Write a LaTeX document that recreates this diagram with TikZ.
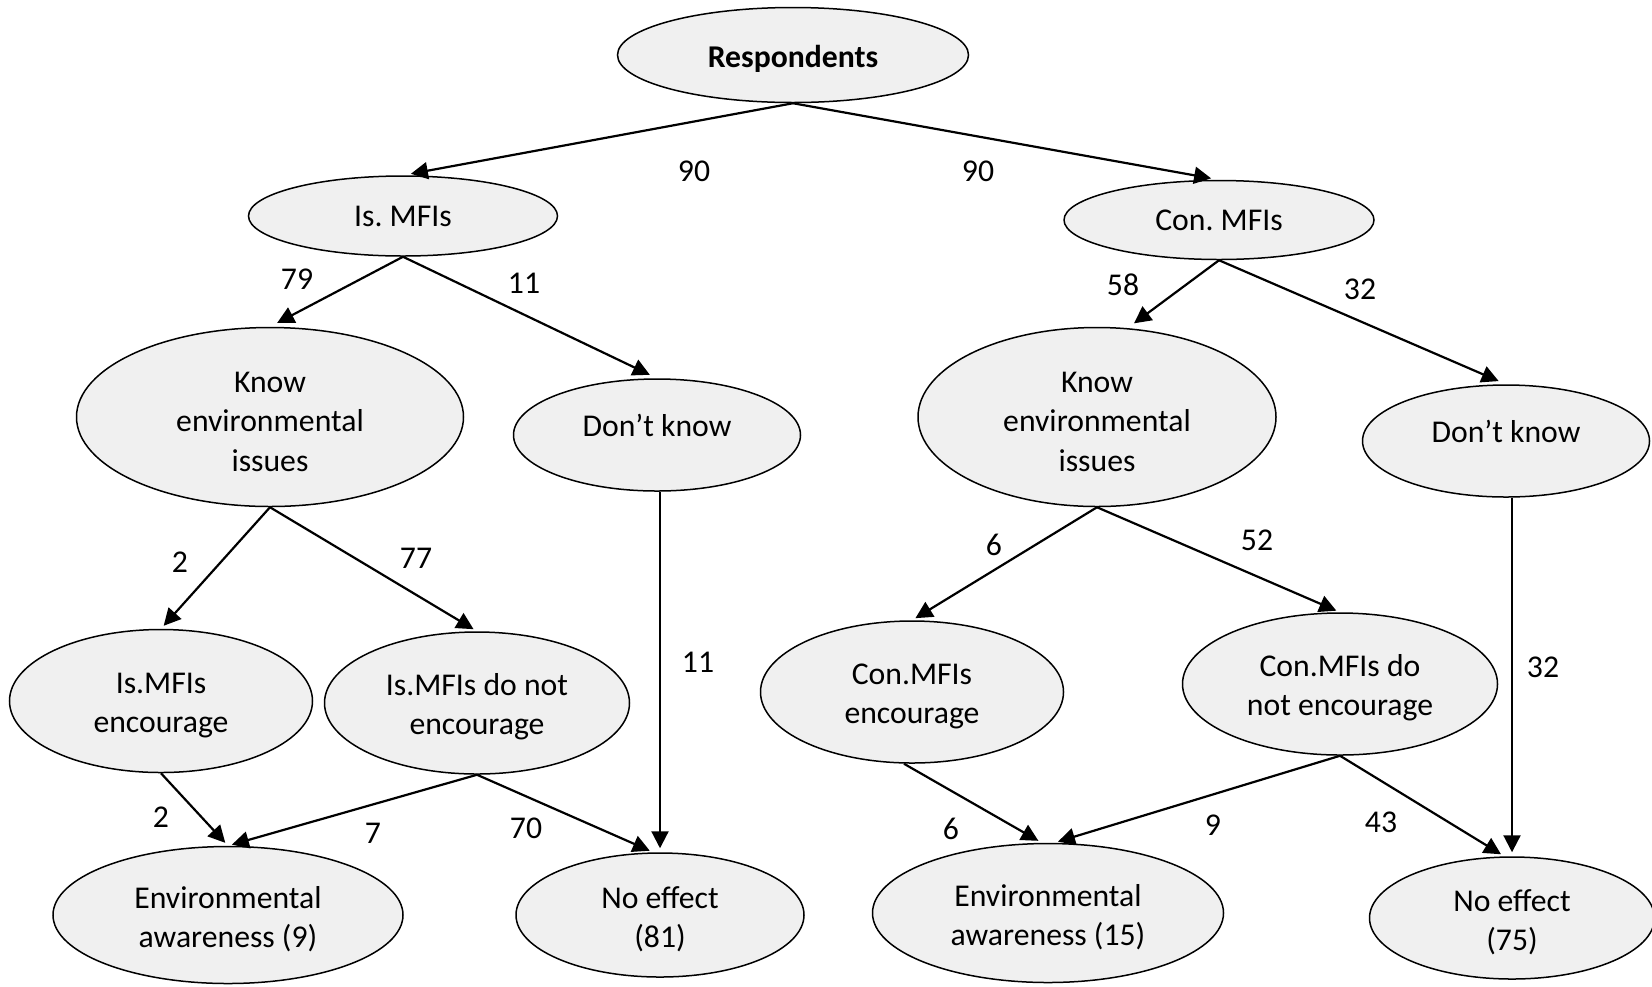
\documentclass[tikz,border=0pt]{standalone}
\usepackage{fontspec}
\setmainfont{Carlito}
\frenchspacing
\usetikzlibrary{shapes.geometric,arrows.meta,calc}
\definecolor{ellfill}{RGB}{240,240,240}
\begin{document}
\begin{tikzpicture}[x=0.5pt,y=-0.5pt,
  ell/.style 2 args={ellipse,draw=black,line width=0.75pt,fill=ellfill,inner sep=0pt,
    minimum width=#1*0.5pt,minimum height=#2*0.5pt,align=center,
    font=\fontsize{15.85pt}{19.7pt}\selectfont},
  tdn/.style={text height=15pt},
  tdntwo/.style={text height=34.7pt},
  tdnthree/.style={text height=54.4pt},
  num/.style={inner sep=0pt,font=\fontsize{15.85pt}{19.7pt}\selectfont},
  arr/.style={draw=black,line width=1.1pt,-{Triangle[length=8.5pt,width=8.5pt]},shorten >=2pt}]
\useasboundingbox (0,0) rectangle (1652,986);
% nodes
\node[ell={351}{95},tdn] (resp) at (793,55) {\textbf{Respondents}};
\node[ell={309}{80}] (ism) at (403,216) {Is.\ MFIs};
\node[ell={310}{79}] (con) at (1219,220) {Con.\ MFIs};
\node[ell={387}{179},tdnthree] (kl) at (270,417) {Know\\environmental\\issues};
\node[ell={287}{112},text depth=10pt] (dl) at (657,435) {Don’t know};
\node[ell={358}{179},tdnthree] (kr) at (1097,417) {Know\\environmental\\issues};
\node[ell={287}{112},text depth=10pt] (dr) at (1506,441) {Don’t know};
\node[ell={303}{143},tdntwo] (iee) at (161,701) {Is.MFIs\\encourage};
\node[ell={305}{142},tdntwo] (ind) at (477,703) {Is.MFIs do not\\encourage};
\node[ell={303}{142},tdntwo] (cce) at (912,692) {Con.MFIs\\encourage};
\node[ell={315}{142},tdntwo] (cnd) at (1340,684) {Con.MFIs do\\not encourage};
\node[ell={350}{137},tdntwo] (ea1) at (228,915) {Environmental\\awareness (9)};
\node[ell={288}{124},tdntwo] (ne1) at (660,915) {No effect\\(81)};
\node[ell={351}{139},tdntwo] (ea2) at (1048,913) {Environmental\\awareness (15)};
\node[ell={285}{122},tdntwo] (ne2) at (1512,918) {No effect\\(75)};
% connectors
\draw[arr,shorten >=4pt] (resp.south) -- (ism.north);
\draw[arr,shorten >=4pt] (resp.south) -- (con.north);
\draw[arr,shorten >=4pt] (ism.south) -- (kl.north);
\draw[arr,shorten >=4pt] (ism.south) -- (dl.north);
\draw[arr,shorten >=4pt] (con.south) -- (kr.71);
\draw[arr,shorten >=4pt] (con.south) -- (dr.north);
\draw[arr] (kl.south) -- (iee.north);
\draw[arr] (kl.south) -- (ind.north);
\draw[arr] (ne1.north |- dl.south) -- (ne1.north);
\draw[arr] (kr.south) -- (cce.north);
\draw[arr] (kr.south) -- (cnd.north);
\draw[arr] (ne2.north |- dr.south) -- (ne2.north);
\draw[arr] (iee.south) -- (ea1.north);
\draw[arr] (ind.south) -- (ea1.north);
\draw[arr] (ind.south) -- (ne1.96);
\draw[arr] ($(cce.south)+(-8,0)$) -- (ea2.95);
\draw[arr] (cnd.south) -- (ea2.85);
\draw[arr] (cnd.south) -- (ne2.97);
% labels
\node[num] (l1) at (694,171) {90};
\node[num] (l2) at (978,171) {90};
\node[num] (l3) at (297,279) {79};
\node[num] (l4) at (524,283) {11};
\node[num] (l5) at (1123,285) {58};
\node[num] (l6) at (1360,289) {32};
\node[num] (l7) at (180,562) {2};
\node[num] (l8) at (416,558) {77};
\node[num] (l9) at (698,662) {11};
\node[num] (l10) at (994,545) {6};
\node[num] (l11) at (1257,540) {52};
\node[num] (l12) at (1543,667) {32};
\node[num] (l13) at (161,817) {2};
\node[num] (l14) at (373,833) {7};
\node[num] (l15) at (526,828) {70};
\node[num] (l16) at (951,829) {6};
\node[num] (l17) at (1213,825) {9};
\node[num] (l18) at (1381,822) {43};
\end{tikzpicture}
\end{document}
